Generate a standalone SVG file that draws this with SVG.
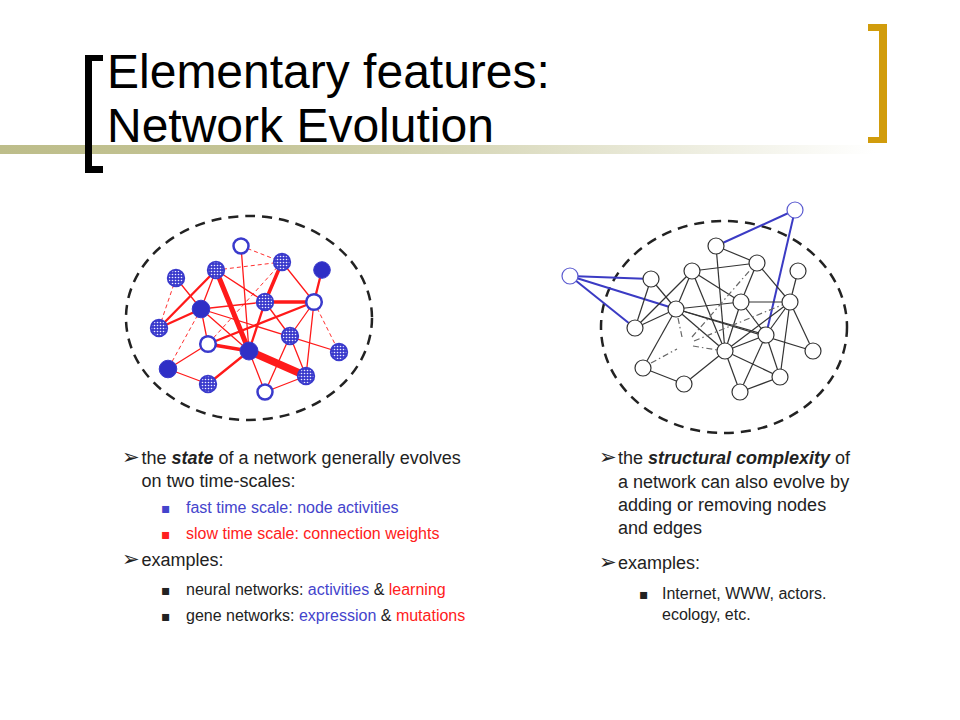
<svg xmlns="http://www.w3.org/2000/svg" width="960" height="720" viewBox="0 0 960 720">
<defs>
<linearGradient id="bar" x1="0" y1="0" x2="1" y2="0">
<stop offset="0" stop-color="#bdbd8a"/>
<stop offset="0.3" stop-color="#c4c496"/>
<stop offset="1" stop-color="#ffffff"/>
</linearGradient>
<pattern id="dots" width="3" height="3" patternUnits="userSpaceOnUse">
<rect width="3" height="3" fill="#3a3acc"/>
<circle cx="1.5" cy="1.5" r="0.8" fill="#eeeeff"/>
</pattern>
<style>
.t{font-family:"Liberation Sans",Arial,sans-serif;fill:#222}
.title{font-family:"Liberation Sans",Arial,sans-serif;font-size:48px;fill:#000}
.sym{font-family:"DejaVu Sans",sans-serif}
.arr{font-family:"DejaVu Sans",sans-serif;font-size:21px}
.sq{font-family:"DejaVu Sans",sans-serif;font-size:14px}
.bl{fill:#4444cc}
.rd{fill:#ff2020}
.bi{font-weight:bold;font-style:italic}
.ell{fill:none;stroke:#222;stroke-width:2.5;stroke-dasharray:10 7}
.re{stroke:#ff1a1a;fill:none;stroke-linecap:round}
.rdash{stroke:#ff3030;stroke-width:1;stroke-dasharray:4 3;fill:none}
.w1{stroke-width:1.3}
.w2{stroke-width:2.3}
.w3{stroke-width:3.5}
.w5{stroke-width:5}
.w7{stroke-width:7.5}
.be{stroke:#333;stroke-width:1.2;fill:none}
.bdd{stroke:#666;stroke-width:1.2;stroke-dasharray:6 3 1.5 3;fill:none}
.blue{stroke:#3b3bc4;stroke-width:2;fill:none}
.hol{fill:#fff;stroke:#3a3acc;stroke-width:2.5}
.fil{fill:#2f2fc6;stroke:#3a3acc;stroke-width:1}
.dot{fill:url(#dots);stroke:#3a3acc;stroke-width:1.8}
.wn{fill:#fff;stroke:#333;stroke-width:1.2}
.wb{fill:#fff;stroke:#5b5bd0;stroke-width:1.2}
</style>
</defs>
<rect width="960" height="720" fill="#fff"/>

<g id="header">
<rect x="0" y="145" width="875" height="9" fill="url(#bar)"/>
<path d="M85,55 H103 V61 H92 V166 H103 V173 H85 Z" fill="#000"/>
<path d="M868,24 H887 V143 H868 V137 H879 V31 H868 Z" fill="#d19c0c"/>
<text class="title" x="107" y="88">Elementary features:</text>
<text class="title" x="107" y="142">Network Evolution</text>
</g>

<ellipse class="ell" cx="249" cy="318" rx="123" ry="102"/>
<ellipse class="ell" cx="724" cy="327" rx="123" ry="106"/>

<g id="left-connectors">
<line class="rdash" x1="241" y1="246" x2="282" y2="262"/>
<line class="rdash" x1="216" y1="270" x2="282" y2="262"/>
<line class="rdash" x1="282" y1="262" x2="208" y2="344"/>
<line class="rdash" x1="176" y1="278" x2="159" y2="328"/>
<line class="rdash" x1="201" y1="309" x2="168" y2="369"/>
<line class="rdash" x1="314" y1="302" x2="339" y2="352"/>
<line class="re w1" x1="241" y1="246" x2="249" y2="351"/>
<line class="re w1" x1="282" y1="262" x2="314" y2="302"/>
<line class="re w1" x1="176" y1="278" x2="201" y2="309"/>
<line class="re w2" x1="201" y1="309" x2="159" y2="328"/>
<line class="re w1" x1="216" y1="270" x2="201" y2="309"/>
<line class="re w1" x1="216" y1="270" x2="265" y2="302"/>
<line class="re w1" x1="201" y1="309" x2="208" y2="344"/>
<line class="re w1" x1="201" y1="309" x2="249" y2="351"/>
<line class="re w1" x1="201" y1="309" x2="265" y2="302"/>
<line class="re w1" x1="201" y1="309" x2="339" y2="352"/>
<line class="re w1" x1="208" y1="344" x2="168" y2="369"/>
<line class="re w1" x1="168" y1="369" x2="208" y2="384"/>
<line class="re w1" x1="249" y1="351" x2="265" y2="392"/>
<line class="re w1" x1="314" y1="302" x2="290" y2="336"/>
<line class="re w1" x1="314" y1="302" x2="306" y2="376"/>
<line class="re w1" x1="290" y1="336" x2="265" y2="392"/>
<line class="re w1" x1="290" y1="336" x2="306" y2="376"/>
<line class="re w1" x1="265" y1="392" x2="306" y2="376"/>
<line class="re w1" x1="265" y1="302" x2="290" y2="336"/>
<line class="re w2" x1="322" y1="270" x2="314" y2="302"/>
<line class="re w2" x1="216" y1="270" x2="159" y2="328"/>
<line class="re w2" x1="208" y1="344" x2="314" y2="302"/>
<line class="re w2" x1="208" y1="384" x2="249" y2="351"/>
<line class="re w2" x1="249" y1="351" x2="265" y2="302"/>
<line class="re w3" x1="265" y1="302" x2="314" y2="302"/>
<line class="re w3" x1="208" y1="344" x2="249" y2="351"/>
<line class="re w3" x1="282" y1="262" x2="265" y2="302"/>
<line class="re w5" x1="216" y1="270" x2="249" y2="351"/>
<line class="re w7" x1="249" y1="351" x2="306" y2="376"/>
</g>

<g id="left-nodes">
<circle id="nA" class="hol" cx="241" cy="246" r="7.5"/>
<circle id="nB" class="dot" cx="282" cy="262" r="8.3"/>
<circle id="nC" class="fil" cx="322" cy="270" r="8.3"/>
<circle id="nD" class="dot" cx="176" cy="278" r="8.3"/>
<circle id="nE" class="dot" cx="216" cy="270" r="8.3"/>
<circle id="nF" class="fil" cx="201" cy="309" r="8.8"/>
<circle id="nG" class="dot" cx="265" cy="302" r="8.3"/>
<circle id="nH" class="hol" cx="314" cy="302" r="7.8"/>
<circle id="nI" class="dot" cx="159" cy="328" r="8.3"/>
<circle id="nJ" class="hol" cx="208" cy="344" r="7.8"/>
<circle id="nK" class="dot" cx="290" cy="336" r="8.3"/>
<circle id="nL" class="fil" cx="249" cy="351" r="9"/>
<circle id="nM" class="dot" cx="339" cy="352" r="8.3"/>
<circle id="nN" class="fil" cx="168" cy="369" r="8.8"/>
<circle id="nO" class="dot" cx="208" cy="384" r="8.3"/>
<circle id="nP" class="dot" cx="306" cy="376" r="8.3"/>
<circle id="nQ" class="hol" cx="265" cy="392" r="7.5"/>
</g>

<g id="right-connectors">
<line class="blue" x1="570" y1="276" x2="651" y2="279"/>
<line class="blue" x1="570" y1="276" x2="676" y2="309"/>
<line class="blue" x1="570" y1="276" x2="635" y2="328"/>
<line class="blue" x1="716" y1="246" x2="795" y2="210"/>
<line class="blue" x1="795" y1="210" x2="766" y2="335"/>
<line class="be" x1="651" y1="279" x2="635" y2="328"/>
<line class="be" x1="651" y1="279" x2="676" y2="309"/>
<line class="be" x1="635" y1="328" x2="676" y2="309"/>
<line class="be" x1="635" y1="328" x2="692" y2="271"/>
<line class="be" x1="692" y1="271" x2="676" y2="309"/>
<line class="be" x1="692" y1="271" x2="757" y2="263"/>
<line class="be" x1="692" y1="271" x2="725" y2="351"/>
<line class="be" x1="692" y1="271" x2="741" y2="302"/>
<line class="be" x1="716" y1="246" x2="757" y2="263"/>
<line class="be" x1="716" y1="246" x2="725" y2="351"/>
<line class="be" x1="757" y1="263" x2="741" y2="302"/>
<line class="be" x1="757" y1="263" x2="790" y2="302"/>
<line class="be" x1="798" y1="271" x2="790" y2="302"/>
<line class="be" x1="676" y1="309" x2="741" y2="302"/>
<line class="be" x1="676" y1="309" x2="725" y2="351"/>
<line class="be" x1="676" y1="309" x2="766" y2="335"/>
<line class="be" x1="676" y1="309" x2="813" y2="351"/>
<line class="be" x1="676" y1="309" x2="643" y2="368"/>
<line class="be" x1="741" y1="302" x2="790" y2="302"/>
<line class="be" x1="741" y1="302" x2="725" y2="351"/>
<line class="be" x1="741" y1="302" x2="766" y2="335"/>
<line class="be" x1="790" y1="302" x2="766" y2="335"/>
<line class="be" x1="790" y1="302" x2="813" y2="351"/>
<line class="be" x1="790" y1="302" x2="780" y2="377"/>
<line class="be" x1="790" y1="302" x2="725" y2="351"/>
<line class="be" x1="766" y1="335" x2="725" y2="351"/>
<line class="be" x1="766" y1="335" x2="740" y2="392"/>
<line class="be" x1="766" y1="335" x2="780" y2="377"/>
<line class="be" x1="725" y1="351" x2="740" y2="392"/>
<line class="be" x1="725" y1="351" x2="780" y2="377"/>
<line class="be" x1="725" y1="351" x2="684" y2="384"/>
<line class="be" x1="740" y1="392" x2="780" y2="377"/>
<line class="be" x1="643" y1="368" x2="684" y2="384"/>
<line class="bdd" x1="678" y1="318" x2="682" y2="337"/>
<line class="bdd" x1="651" y1="363" x2="677" y2="349"/>
<line class="bdd" x1="693" y1="346" x2="717" y2="350"/>
<line class="bdd" x1="692" y1="337" x2="751" y2="269"/>
<line class="bdd" x1="694" y1="341" x2="782" y2="305"/>
</g>

<g id="right-nodes">
<circle id="r1" class="wb" cx="570" cy="276" r="8"/>
<circle id="r2" class="wb" cx="795" cy="210" r="8"/>
<circle id="r3" class="wn" cx="716" cy="246" r="8"/>
<circle id="r4" class="wn" cx="757" cy="263" r="8"/>
<circle id="r5" class="wn" cx="692" cy="271" r="8"/>
<circle id="r6" class="wn" cx="651" cy="279" r="8"/>
<circle id="r7" class="wn" cx="798" cy="271" r="8"/>
<circle id="r8" class="wn" cx="676" cy="309" r="8"/>
<circle id="r9" class="wn" cx="741" cy="302" r="8"/>
<circle id="r10" class="wn" cx="790" cy="302" r="8"/>
<circle id="r11" class="wn" cx="635" cy="328" r="8"/>
<circle id="r12" class="wn" cx="766" cy="335" r="8"/>
<circle id="r13" class="wn" cx="725" cy="351" r="8"/>
<circle id="r14" class="wn" cx="813" cy="351" r="8"/>
<circle id="r15" class="wn" cx="643" cy="368" r="8"/>
<circle id="r16" class="wn" cx="684" cy="384" r="8"/>
<circle id="r17" class="wn" cx="780" cy="377" r="8"/>
<circle id="r18" class="wn" cx="740" cy="392" r="8"/>
</g>

<g id="left-text" class="t">
<text x="122" y="464" font-size="18"><tspan class="arr">➢</tspan><tspan x="141.5">the </tspan><tspan class="bi">state</tspan> of a network generally evolves</text>
<text x="141.5" y="487" font-size="18">on two time-scales:</text>
<text x="161" y="513" font-size="16" class="bl"><tspan class="sq">▪</tspan><tspan x="186">fast time scale: node activities</tspan></text>
<text x="161" y="539" font-size="16" class="rd"><tspan class="sq">▪</tspan><tspan x="186">slow time scale: connection weights</tspan></text>
<text x="122" y="566" font-size="18"><tspan class="arr">➢</tspan><tspan x="141.5">examples:</tspan></text>
<text x="161" y="595" font-size="16"><tspan class="sq">▪</tspan><tspan x="186">neural networks: </tspan><tspan class="bl">activities</tspan> &amp; <tspan class="rd">learning</tspan></text>
<text x="161" y="621" font-size="16"><tspan class="sq">▪</tspan><tspan x="186">gene networks: </tspan><tspan class="bl">expression</tspan> &amp; <tspan class="rd">mutations</tspan></text>
</g>

<g id="right-text" class="t">
<text x="599" y="464" font-size="18"><tspan class="arr">➢</tspan><tspan x="618">the </tspan><tspan class="bi">structural complexity</tspan> of</text>
<text x="618" y="488" font-size="18">a network can also evolve by</text>
<text x="618" y="511" font-size="18">adding or removing nodes</text>
<text x="618" y="534" font-size="18">and edges</text>
<text x="599" y="569" font-size="18"><tspan class="arr">➢</tspan><tspan x="618">examples:</tspan></text>
<text x="639" y="599" font-size="16"><tspan class="sq">▪</tspan><tspan x="662">Internet, WWW, actors.</tspan></text>
<text x="662" y="620" font-size="16">ecology, etc.</text>
</g>
</svg>
